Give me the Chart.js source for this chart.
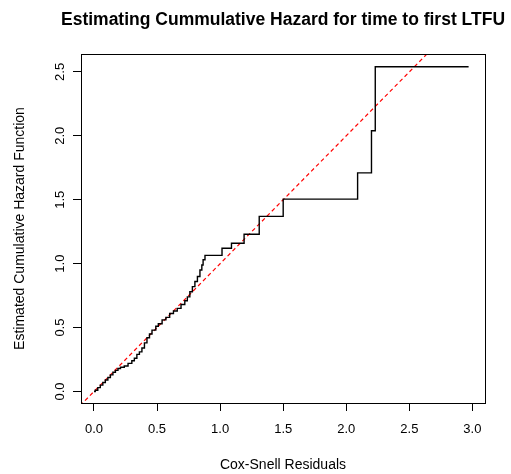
<!DOCTYPE html>
<html>
<head>
<meta charset="utf-8">
<style>
    html, body { margin: 0; padding: 0; background: #ffffff; }
    #wrap { width: 511px; height: 474px; }
</style>
<script src="https://cdn.jsdelivr.net/npm/chart.js@4.4.1/dist/chart.umd.min.js"></script>
</head>
<body>
<div id="wrap"><canvas id="chart" width="511" height="474"></canvas></div>
<script>
// Cox-Snell residuals (jump times) and the estimated cumulative hazard after each jump.
var residualTimes = [
    0.00, 0.01, 0.03, 0.05, 0.07, 0.09, 0.11, 0.13, 0.15, 0.17,
    0.19, 0.21, 0.24, 0.27, 0.30, 0.32, 0.34, 0.36, 0.38, 0.40,
    0.42, 0.44, 0.46, 0.49, 0.51, 0.54, 0.57, 0.60, 0.63, 0.66,
    0.69, 0.72, 0.74, 0.76, 0.78, 0.80, 0.82, 0.84, 0.855, 0.865,
    0.88, 1.015, 1.09, 1.19, 1.31, 1.50, 2.09, 2.20, 2.23, 2.97
];
var cumHazard = [
    0.00, 0.01, 0.03, 0.05, 0.07, 0.09, 0.11, 0.13, 0.15, 0.165,
    0.18, 0.19, 0.20, 0.22, 0.24, 0.26, 0.29, 0.31, 0.34, 0.38,
    0.42, 0.45, 0.48, 0.51, 0.53, 0.56, 0.58, 0.61, 0.63, 0.65,
    0.68, 0.71, 0.74, 0.78, 0.82, 0.86, 0.90, 0.95, 0.99, 1.03,
    1.065, 1.12, 1.16, 1.23, 1.37, 1.505, 1.71, 2.04, 2.54, 2.54
];

// Reference line y = x (clipped by the plot area).
var refLineX = [-0.5, 3.5];
var refLineY = [-0.5, 3.5];

var xTickValues = [0, 0.5, 1, 1.5, 2, 2.5, 3];
var yTickValues = [0, 0.5, 1, 1.5, 2, 2.5];

var mainTitle = 'Estimating Cummulative Hazard for time to first LTFU';
var xTitle = 'Cox-Snell Residuals';
var yTitle = 'Estimated Cumulative Hazard Function';

(function () {

    var FONT = '"Liberation Sans", Arial, Helvetica, sans-serif';

    /**
     * Zips two arrays into {x, y} points.
     */
    function toPoints(xs, ys)
    {
        var index, points = [];
        for (index = 0; index < xs.length; index++) {
            points.push({ x: xs[index], y: ys[index] });
        }
        return points;
    }

    /**
     * Draws the full box around the plot region and the main title, R style.
     */
    var framePlugin = {
        id: 'frame',
        afterDraw: function (chart) {
            var ctx = chart.ctx, area = chart.chartArea;

            ctx.save();
            ctx.strokeStyle = '#000000';
            ctx.lineWidth = 1;
            ctx.strokeRect(Math.round(area.left) + 0.5, Math.round(area.top) + 0.5,
                Math.round(area.right - area.left), Math.round(area.bottom - area.top));

            ctx.fillStyle = '#000000';
            ctx.font = 'bold 17.5px ' + FONT;
            ctx.textAlign = 'center';
            ctx.textBaseline = 'middle';
            ctx.fillText(mainTitle, (area.left + area.right) / 2, 20);
            ctx.restore();
        }
    };

    var tickFont = { family: FONT, size: 13 };
    var labelFont = { family: FONT, size: 14 };

    new Chart(document.getElementById('chart').getContext('2d'), {
        type: 'line',
        data: {
            datasets: [{
                data: toPoints(residualTimes, cumHazard),
                borderColor: '#000000',
                borderWidth: 1.4,
                stepped: 'before',
                pointRadius: 0,
                fill: false
            }, {
                data: toPoints(refLineX, refLineY),
                borderColor: '#ff0000',
                borderWidth: 1.2,
                borderDash: [4, 3],
                pointRadius: 0,
                fill: false
            }]
        },
        options: {
            responsive: false,
            animation: false,
            events: [],
            layout: { padding: { top: 54, right: 26, left: 0, bottom: 0 } },
            plugins: {
                legend: { display: false },
                tooltip: { enabled: false },
                title: { display: false }
            },
            scales: {
                x: {
                    type: 'linear',
                    min: -0.103,
                    max: 3.10,
                    afterFit: function (scale) { scale.height = 71; },
                    afterBuildTicks: function (scale) {
                        scale.ticks = xTickValues.map(function (v) { return { value: v }; });
                    },
                    ticks: {
                        color: '#000000',
                        font: tickFont,
                        padding: 11,
                        maxRotation: 0,
                        autoSkip: false,
                        includeBounds: false,
                        callback: function (v) { return Number(v).toFixed(1); }
                    },
                    grid: {
                        drawOnChartArea: false,
                        drawTicks: true,
                        tickLength: 8,
                        color: '#000000'
                    },
                    border: { display: true, color: '#000000' },
                    title: {
                        display: true,
                        text: xTitle,
                        color: '#000000',
                        font: labelFont,
                        padding: { top: 0, bottom: 0 }
                    }
                },
                y: {
                    type: 'linear',
                    min: -0.09,
                    max: 2.64,
                    afterFit: function (scale) { scale.width = 81; },
                    afterBuildTicks: function (scale) {
                        scale.ticks = yTickValues.map(function (v) { return { value: v }; });
                    },
                    ticks: {
                        color: '#000000',
                        font: tickFont,
                        padding: 4,
                        minRotation: 90,
                        maxRotation: 90,
                        crossAlign: 'center',
                        autoSkip: false,
                        includeBounds: false,
                        callback: function (v) { return Number(v).toFixed(1); }
                    },
                    grid: {
                        drawOnChartArea: false,
                        drawTicks: true,
                        tickLength: 8,
                        color: '#000000'
                    },
                    border: { display: true, color: '#000000' },
                    title: {
                        display: true,
                        text: yTitle,
                        color: '#000000',
                        font: labelFont,
                        padding: { top: 12, bottom: 0 }
                    }
                }
            }
        },
        plugins: [framePlugin]
    });

})();
</script>
</body>
</html>
